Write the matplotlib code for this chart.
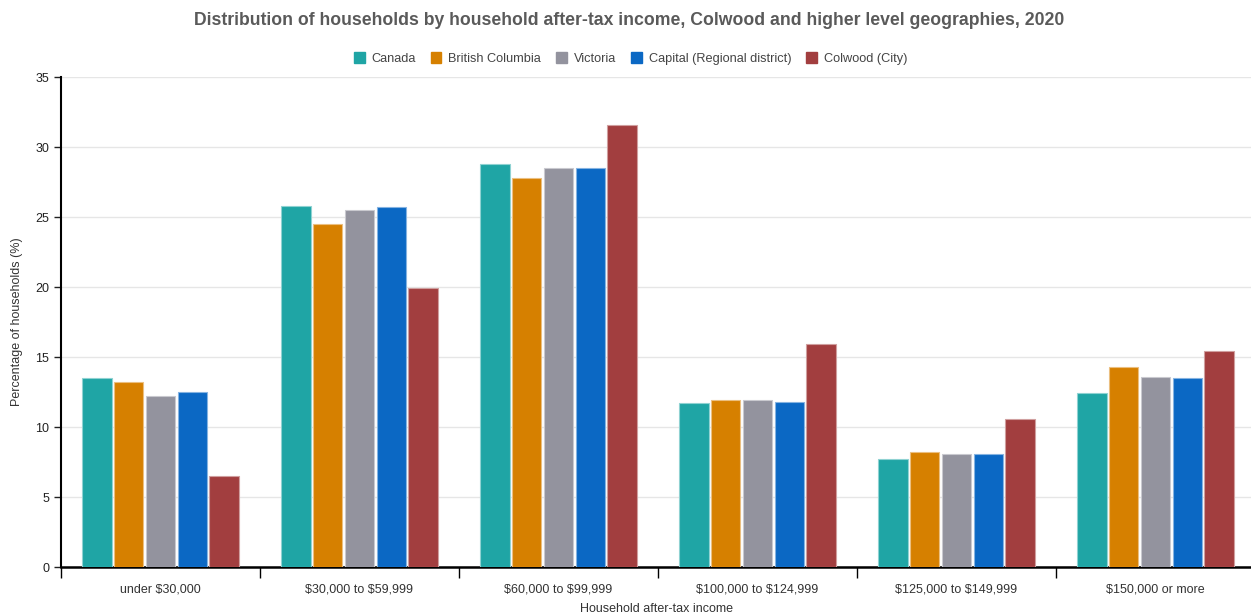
import numpy as np
import matplotlib.pyplot as plt
from matplotlib.patches import Patch

plt.rcParams['font.family'] = ['Liberation Sans', 'DejaVu Sans']

categories = ["under \\$30,000", "\\$30,000 to \\$59,999", "\\$60,000 to \\$99,999",
              "\\$100,000 to \\$124,999", "\\$125,000 to \\$149,999", "\\$150,000 or more"]
series = ["Canada", "British Columbia", "Victoria", "Capital (Regional district)", "Colwood (City)"]
canada = [13.5, 25.8, 28.8, 11.7, 7.7, 12.4]
bc = [13.2, 24.5, 27.8, 11.9, 8.2, 14.3]
victoria = [12.2, 25.5, 28.5, 11.9, 8.1, 13.6]
capital = [12.5, 25.7, 28.5, 11.8, 8.1, 13.5]
colwood = [6.5, 19.9, 31.6, 15.9, 10.6, 15.4]
colors = ["#1fa5a5", "#d68000", "#93939e", "#0b68c4", "#a23e3f"]
edges = ["#8fd2d2", "#ebbf80", "#c9c9cf", "#85b3e1", "#d09f9f"]

values = [canada, bc, victoria, capital, colwood]

fig = plt.figure(figsize=(12.51, 6.16), dpi=100)
ax = fig.add_axes([61 / 1251, 1 - 567 / 616, 1 - 61 / 1251, (567 - 77) / 616])

x = np.arange(len(categories))
pitch = 0.16
width = 0.148
for i, (vals, c, e) in enumerate(zip(values, colors, edges)):
    ax.bar(x + (i - 2) * pitch, vals, width=width, color=c, edgecolor=e,
           linewidth=0.8, zorder=3)

ax.set_xlim(-0.5, len(categories) - 0.52)
ax.set_ylim(0, 35)
ax.set_yticks(range(0, 36, 5))
ax.yaxis.grid(True, color="#e6e6e6", linewidth=1, zorder=0)
ax.tick_params(axis="y", labelsize=9, colors="#222222", length=5, width=1)

ax.set_xticks(np.arange(len(categories)) - 0.5)
ax.set_xticklabels([])
ax.tick_params(axis="x", which="major", length=8, width=1, direction="out")
ax.set_xticks(x, minor=True)
ax.set_xticklabels(categories, minor=True, fontsize=9, color="#333333")
ax.tick_params(axis="x", which="minor", length=0, pad=12)

for s in ["top", "right"]:
    ax.spines[s].set_visible(False)
ax.spines["left"].set_linewidth(1.5)
ax.spines["bottom"].set_linewidth(1.8)

ax.set_ylabel("Percentage of households (%)", fontsize=9, color="#333333", labelpad=9)
ax.set_xlabel("Household after-tax income", fontsize=9, color="#333333", labelpad=5)

fig.suptitle("Distribution of households by household after-tax income, Colwood and higher level geographies, 2020",
             x=0.503, y=0.98, fontsize=12.7, fontweight="bold", color="#5a5a5a")

handles = [Patch(facecolor=c, edgecolor=c) for c in colors]
fig.legend(handles, series, loc="center", bbox_to_anchor=(0.504, 0.905), ncol=5,
           frameon=False, fontsize=9.2, handlelength=0.85, handleheight=1.0,
           handletextpad=0.55, columnspacing=1.15, labelcolor="#444444")

fig.savefig("out.png", dpi=100)
